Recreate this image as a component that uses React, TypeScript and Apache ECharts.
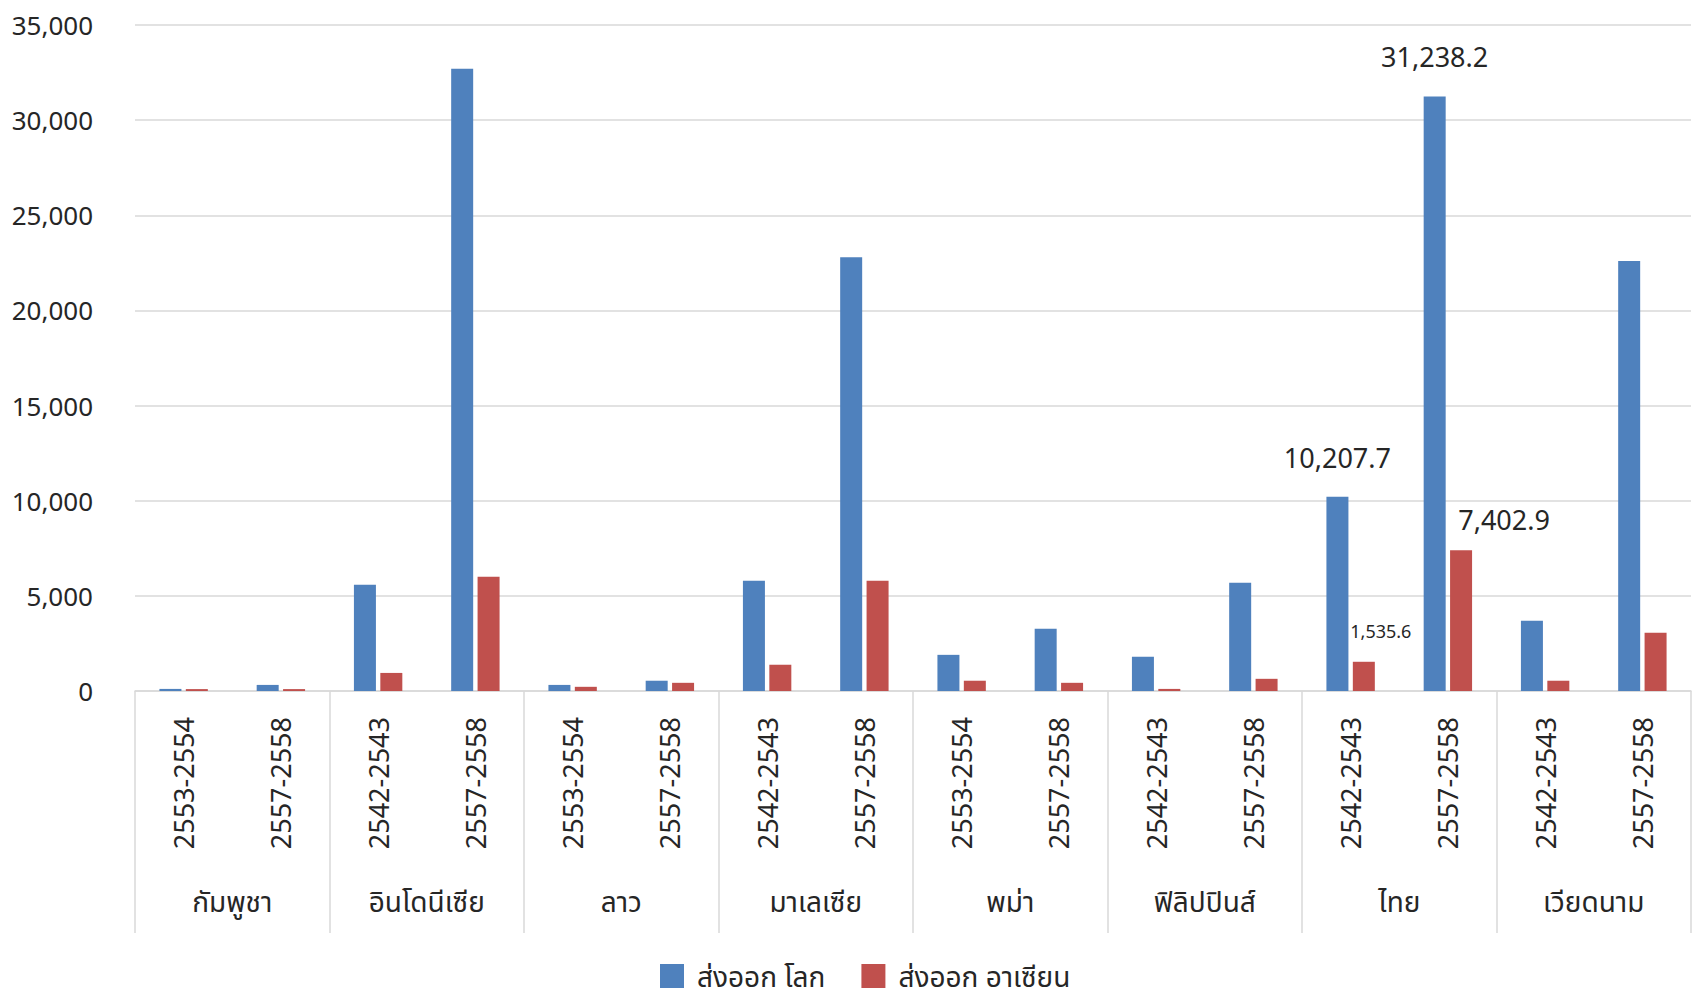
import React, { useEffect, useRef } from "react";
import * as echarts from "echarts";

const countries = ["กัมพูชา", "อินโดนีเซีย", "ลาว", "มาเลเซีย", "พม่า", "ฟิลิปปินส์", "ไทย", "เวียดนาม"];
const periods = [
  "2553-2554", "2557-2558",
  "2542-2543", "2557-2558",
  "2553-2554", "2557-2558",
  "2542-2543", "2557-2558",
  "2553-2554", "2557-2558",
  "2542-2543", "2557-2558",
  "2542-2543", "2557-2558",
  "2542-2543", "2557-2558",
];
const seriesNames = ["ส่งออก โลก", "ส่งออก อาเซียน"];
const worldExports = [110, 320, 5580, 32700, 320, 540, 5790, 22800, 1900, 3270, 1800, 5690, 10207.7, 31238.2, 3690, 22600];
const aseanExports = [100, 100, 950, 6000, 220, 430, 1380, 5790, 540, 430, 110, 640, 1535.6, 7402.9, 540, 3060];
const yTicks = { min: 0, max: 35000, interval: 5000 };

const FONT = "'Noto Sans', 'Noto Sans Thai', 'Leelawadee UI', Tahoma, sans-serif";
const TXT = "#262626";
const GRID = "#d9d9d9";

const fmt = (v: number) =>
  v.toLocaleString("en-US", { minimumFractionDigits: 1, maximumFractionDigits: 1 });

// labelled points: index -> label style
const worldLabels: Record<number, any> = {
  12: { fontSize: 27, distance: 26, offset: [0, 0] },
  13: { fontSize: 27, distance: 27, offset: [0, 0] },
};
const aseanLabels: Record<number, any> = {
  12: { fontSize: 18, distance: 22, offset: [17, 0] },
  13: { fontSize: 27, distance: 17, offset: [43, 0] },
};

function build(values: number[], labels: Record<number, any>) {
  return values.map((v, i) => {
    const l = labels[i];
    if (!l) return v;
    return {
      value: v,
      label: {
        show: true,
        position: "top",
        formatter: () => fmt(v),
        color: TXT,
        fontFamily: FONT,
        ...l,
      },
    };
  });
}

export default function App() {
  const ref = useRef<HTMLDivElement>(null);
  useEffect(() => {
    if (!ref.current) return;
    const chart = echarts.init(ref.current, undefined, { renderer: "svg" });
    chart.setOption({
      animation: false,
      backgroundColor: "#ffffff",
      textStyle: { fontFamily: FONT },
      grid: { left: 135, right: 5, top: 25, bottom: 306, containLabel: false },
      legend: {
        data: seriesNames,
        left: 655,
        top: 957,
        itemWidth: 24,
        itemHeight: 24,
        itemGap: 36,
        icon: "rect",
        textStyle: { fontSize: 28, color: TXT, fontFamily: FONT, padding: [0, 0, 0, 8] },
      },
      xAxis: [
        {
          type: "category",
          data: periods,
          position: "bottom",
          axisLine: { show: true, lineStyle: { color: GRID, width: 1.5 } },
          axisTick: { show: false },
          axisLabel: {
            interval: 0,
            rotate: 90,
            margin: 26,
            fontSize: 27,
            color: TXT,
            fontFamily: FONT,
          },
        },
        {
          type: "category",
          data: countries,
          position: "bottom",
          axisLine: { show: false },
          axisTick: { show: true, length: 242, interval: 0, lineStyle: { color: GRID, width: 1.5 } },
          axisLabel: {
            interval: 0,
            margin: 196,
            fontSize: 28,
            color: TXT,
            fontFamily: FONT,
          },
        },
      ],
      yAxis: {
        type: "value",
        min: yTicks.min,
        max: yTicks.max,
        interval: yTicks.interval,
        axisLine: { show: false },
        axisTick: { show: false },
        splitLine: { lineStyle: { color: GRID, width: 1.5 } },
        axisLabel: { fontSize: 26, color: TXT, margin: 42, fontFamily: FONT, padding: [0, 0, 8, 0] },
      },
      series: [
        {
          name: seriesNames[0],
          type: "bar",
          xAxisIndex: 0,
          data: build(worldExports, worldLabels),
          barWidth: 22,
          barGap: "20%",
          itemStyle: { color: "#4F81BD" },
        },
        {
          name: seriesNames[1],
          type: "bar",
          xAxisIndex: 0,
          data: build(aseanExports, aseanLabels),
          barWidth: 22,
          barGap: "20%",
          itemStyle: { color: "#C0504D" },
        },
      ],
    });
    return () => chart.dispose();
  }, []);
  return (
    <div
      ref={ref}
      style={{ position: "fixed", left: 0, top: 0, width: 1696, height: 997, background: "#fff" }}
    />
  );
}
